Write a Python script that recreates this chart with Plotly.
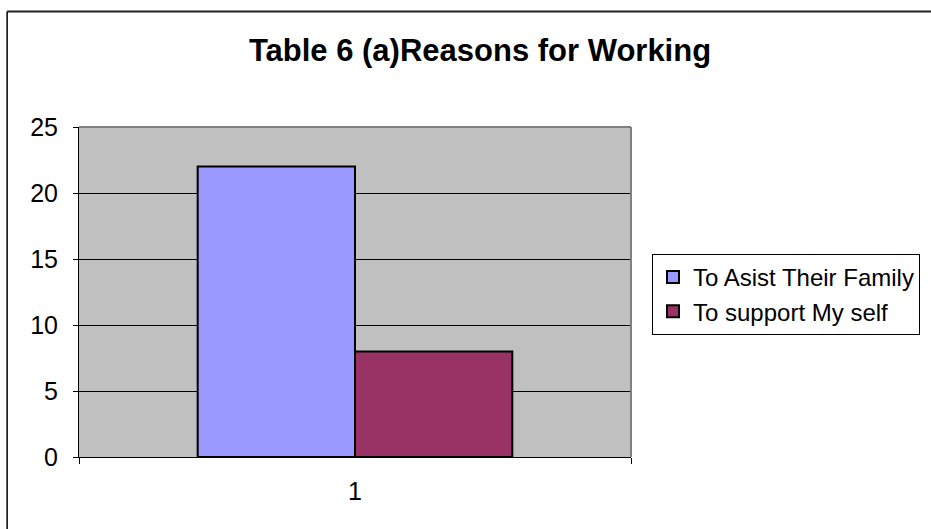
import plotly.graph_objects as go

categories = ["1"]
series_names = ["To Asist Their Family", "To support My self"]
series_values = [[22], [8]]
series_colors = ["#9999FF", "#993366"]
y_ticks = [0, 5, 10, 15, 20, 25]

W, H = 931, 529
L, R, T, B = 79, 632, 127, 457  # plot area in pixels

def px_x(p):
    return (p - L) / (R - L)

def px_y(p):
    return (B - p) / (B - T)

fig = go.Figure()
for i, (name, vals, col) in enumerate(zip(series_names, series_values, series_colors)):
    fig.add_trace(go.Bar(
        x=categories, y=vals, name=name, legendgroup=f"g{i}",
        marker=dict(color=col, line=dict(color="black", width=2)),
    ))

font = "Liberation Sans, Arial, sans-serif"
fig.update_layout(
    width=W, height=H,
    margin=dict(l=L, r=W - R, t=T, b=H - B, pad=0),
    paper_bgcolor="white", plot_bgcolor="#C0C0C0",
    barmode="group", bargap=0.43, bargroupgap=0,
    font=dict(family=font, size=25, color="black"),
    title=dict(text="<b>Table 6 (a)Reasons for Working</b>", x=480 / W, xref="container", xanchor="center",
               y=1 - 50 / H, yref="container", yanchor="middle",
               font=dict(family=font, size=31, color="black")),
    showlegend=True,
    legend=dict(x=px_x(652), y=px_y(254), xanchor="left", yanchor="top",
                bordercolor="black", borderwidth=1, bgcolor="white",
                font=dict(family=font, size=24), tracegroupgap=8,
                traceorder="normal"),
    xaxis=dict(type="category", tickson="boundaries", ticks="outside", ticklen=6, tickcolor="black",
               showline=True, linecolor="black", linewidth=1, showgrid=False,
               ticklabelstandoff=12, tickfont=dict(size=25)),
    yaxis=dict(range=[0, 25], tickvals=y_ticks, ticks="outside", ticklen=5, tickcolor="black",
               showline=True, linecolor="black", linewidth=1, showgrid=True, gridcolor="black",
               gridwidth=1, zeroline=False, ticklabelstandoff=10, tickfont=dict(size=25)),
    shapes=[
        dict(type="line", xref="paper", yref="paper", x0=0, x1=1, y0=1, y1=1,
             line=dict(color="#808080", width=2), layer="above"),
        dict(type="line", xref="paper", yref="paper", x0=1, x1=1, y0=0, y1=1,
             line=dict(color="#808080", width=2), layer="above"),
        dict(type="line", xref="paper", yref="paper", x0=px_x(7), x1=px_x(W + 5), y0=px_y(11.5), y1=px_y(11.5),
             line=dict(color="#222222", width=2)),
        dict(type="line", xref="paper", yref="paper", x0=px_x(7), x1=px_x(7), y0=px_y(11.5), y1=px_y(H + 5),
             line=dict(color="black", width=1.5)),
    ],
)

fig.write_html("out.html")
